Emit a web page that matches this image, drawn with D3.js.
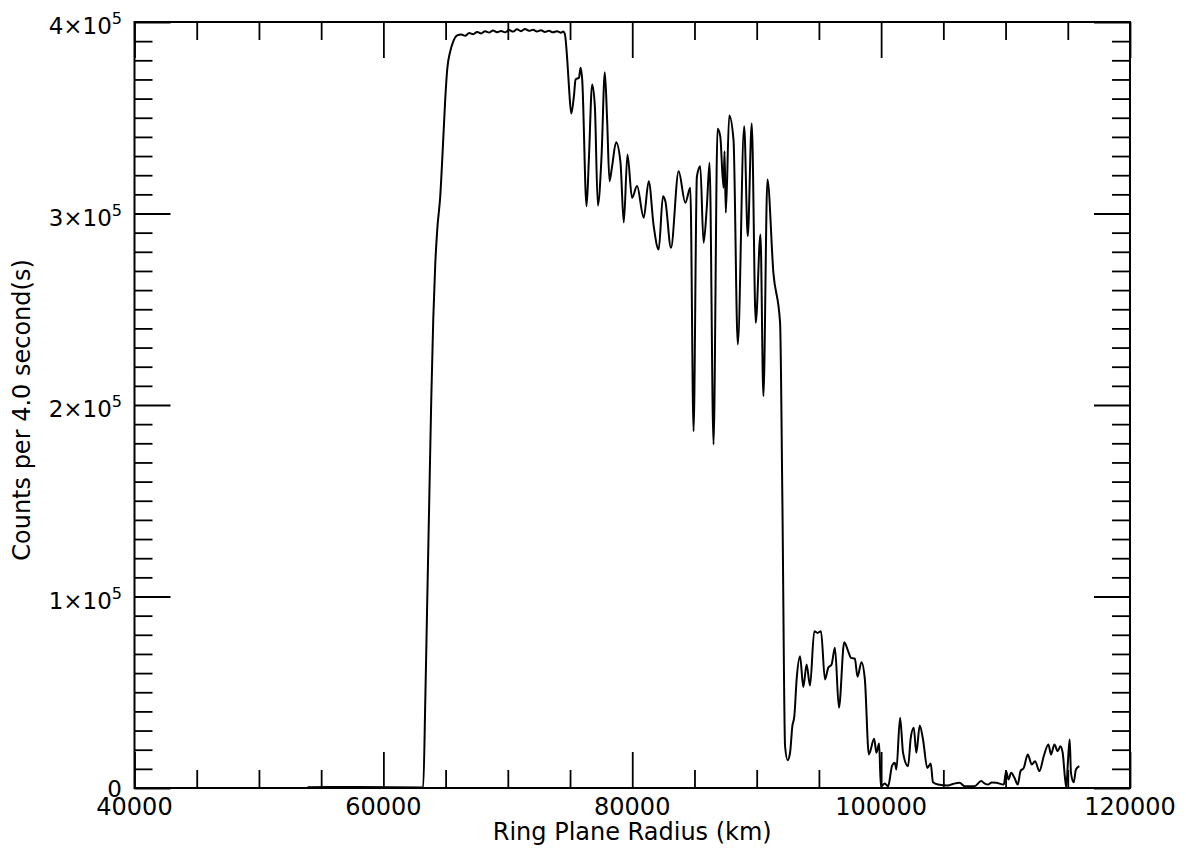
<!DOCTYPE html>
<html lang="en">

<head>
    <meta charset="utf-8">
    <script src='https://d3js.org/d3.v7.min.js'></script>
    <style>
        body { margin: 0; background: #fff; }
        text { font-family: "DejaVu Sans", sans-serif; fill: #000; }
    </style>
</head>

<body>
    <div class="chart"></div>

    <script>
        // Data
        const radiusKm = [
            53900, 58100, 63200, 63370, 63527, 63688, 63848, 64008, 64168, 64329,
            64569, 64810, 64970, 65130, 65371, 65611, 65932, 66252,
            66573, 66894, 67214, 67535, 67856, 68176, 68497, 68818, 69138, 69459,
            69779, 70100, 70421, 70741, 71062, 71383, 71703, 72024, 72344, 72665,
            72986, 73306, 73627, 73947, 74268, 74453,
            74591, 74775, 74911, 75096, 75312, 75448, 75713, 75849, 75977, 76329,
            76514, 76778, 76995, 77235, 77532, 77796, 77980, 78173, 78381, 78702,
            79055, 79319, 79615, 79984, 80385, 80922, 81323, 81724, 82124, 82469,
            82661, 83110, 83727, 84264, 84665, 84929, 85194, 85466, 85731, 85996,
            86212, 86533, 86854, 87070, 87335, 87415, 87519, 87792, 88136, 88481,
            88994, 89283, 89603, 89924, 90301, 90541, 90862, 91343, 91880, 92064,
            92281, 92489, 92681, 92866, 93026, 93210, 93483, 93747, 94012, 94284,
            94629, 94894, 95167, 95487, 95752, 96016, 96289, 96609, 97034, 97355,
            97571, 97892, 98100, 98421, 98693, 99014, 99439, 99623, 99840, 99976,
            100297, 100561, 100882, 101098, 101226, 101523, 101763, 102164, 102381, 102621,
            102830, 103102, 103367, 103711, 103984, 104168, 104569, 105371, 105772, 106309,
            106710, 107511, 108040, 108337, 108577, 108898, 109243, 109860, 110044, 110237,
            110445, 110718, 110982, 111199, 111463, 111784, 112105, 112369, 112722, 113067,
            113444, 113652, 113925, 114189, 114406, 114590, 114775, 114887, 114991, 115152,
            115256, 115472, 115657, 115929
        ];
        const counts = [
            400, 500, 300, 46200, 98400, 150700, 202900, 244700, 273400, 291600,
            308900, 338600, 359500, 375200, 384600, 389800, 393000, 393500,
            392800, 394200, 393600, 394800, 394000, 395200, 394500, 395600, 394700, 395300,
            394600, 395800, 395000, 396200, 395200, 396400, 395400, 395900, 395000, 395700,
            394800, 395400, 394600, 395200, 394400, 395000,
            393500, 380400, 366500, 352200, 361300, 370000, 370900, 376100, 370000, 303800,
            328200, 367400, 356000, 304200, 329900, 373800, 349100, 316900, 324700, 337200,
            326600, 295300, 330800, 308200, 314300, 297800, 316900, 293400, 281200, 309000,
            306400, 282100, 322100, 305600, 313400, 186300, 319200, 324700, 284700, 303800,
            326500, 179400, 344200, 340400, 313400, 332500, 300400, 351200, 338600, 231600,
            345600, 288200, 347000, 242900, 289000, 204600, 317800, 269000, 242900, 150700,
            21800, 14500, 18400, 32300, 37500, 56700, 68800, 52800, 64500, 53500,
            81900, 81000, 81900, 56700, 62800, 64500, 73200, 41900, 76100, 71400,
            68000, 67500, 58100, 65700, 56700, 17500, 25700, 18400, 23200, 900,
            2300, 900, 11700, 13200, 9700, 36700, 18400, 11400, 26200, 31400,
            18400, 32600, 25300, 10500, 12800, 3000, 1800, 1300, 2100, 2700,
            900, 900, 3600, 2300, 1800, 2900, 2700, 1800, 8800, 4400,
            7900, 5300, 1800, 8800, 10500, 17500, 12300, 14000, 8800, 16600,
            22700, 17500, 22700, 19200, 21800, 18400, 5300, 300, 11400, 25300,
            7900, 3000, 9700, 11400
        ];

        const xTickValues = [40000, 60000, 80000, 100000, 120000];
        const yTickValues = [0, 100000, 200000, 300000, 400000];
        const yTickMantissa = ["0", "1", "2", "3", "4"];
        const xLabel = "Ring Plane Radius (km)";
        const yLabel = "Counts per 4.0 second(s)";

        const data = radiusKm.map((r, i) => ({ x: r, y: counts[i] }));

        // Set Dimensions
        const width = 1186;
        const height = 852;
        const plotLeft = 134.5, plotRight = 1130, plotTop = 22, plotBottom = 788;

        const svg = d3.select(".chart")
            .append("svg")
            .attr("width", width)
            .attr("height", height);

        const x = d3.scaleLinear().domain([40000, 120000]).range([plotLeft, plotRight]);
        const y = d3.scaleLinear().domain([0, 400000]).range([plotBottom, plotTop]);

        const xMinor = d3.range(40000, 120001, 5000).filter(v => v % 20000 !== 0);
        const yMinor = d3.range(0, 400001, 10000).filter(v => v % 100000 !== 0);

        // helper: draw inward ticks on one side
        function ticks(axisFn, scale, values, size, transform) {
            const g = svg.append("g")
                .attr("transform", transform)
                .call(axisFn(scale).tickValues(values).tickSize(-size).tickFormat(""));
            g.select(".domain").remove();
            g.selectAll("line").attr("stroke", "#000").attr("stroke-width", 1.8);
            return g;
        }

        // bottom / top
        ticks(d3.axisBottom, x, xTickValues, 36, `translate(0,${plotBottom})`);
        ticks(d3.axisBottom, x, xMinor, 18, `translate(0,${plotBottom})`);
        ticks(d3.axisTop, x, xTickValues, 36, `translate(0,${plotTop})`);
        ticks(d3.axisTop, x, xMinor, 18, `translate(0,${plotTop})`);
        // left / right
        ticks(d3.axisLeft, y, yTickValues, 36, `translate(${plotLeft},0)`);
        ticks(d3.axisLeft, y, yMinor, 18, `translate(${plotLeft},0)`);
        ticks(d3.axisRight, y, yTickValues, 36, `translate(${plotRight},0)`);
        ticks(d3.axisRight, y, yMinor, 18, `translate(${plotRight},0)`);

        // frame
        svg.append("rect")
            .attr("x", plotLeft).attr("y", plotTop)
            .attr("width", plotRight - plotLeft).attr("height", plotBottom - plotTop)
            .attr("fill", "none").attr("stroke", "#000").attr("stroke-width", 2);

        // x tick labels
        svg.selectAll(".xlab").data(xTickValues).enter().append("text")
            .attr("x", d => x(d)).attr("y", 815)
            .attr("text-anchor", "middle").attr("font-size", 24)
            .text(d => d);

        // y tick labels with powers of ten
        yTickValues.forEach((v, i) => {
            const t = svg.append("text")
                .attr("x", 122).attr("y", y(v) + (v === 0 ? 9 : 12))
                .attr("text-anchor", "end").attr("font-size", 23);
            if (v === 0) {
                t.text("0");
            } else {
                t.append("tspan").text(yTickMantissa[i] + "\u00d710");
                t.append("tspan").attr("dy", -10).attr("font-size", 16).text("5");
            }
        });

        // axis titles
        svg.append("text")
            .attr("x", (plotLeft + plotRight) / 2).attr("y", 840)
            .attr("text-anchor", "middle").attr("font-size", 24)
            .text(xLabel);
        svg.append("text")
            .attr("transform", "translate(30,410) rotate(-90)")
            .attr("text-anchor", "middle").attr("font-size", 24)
            .text(yLabel);

        // Add the line
        svg.append("path")
            .datum(data)
            .attr("fill", "none").attr("stroke", "#000").attr("stroke-width", 2)
            .attr("stroke-linejoin", "round")
            .attr("d", d3.line()
                .curve(d3.curveMonotoneX)
                .x(d => { return x(d.x) })
                .y(d => { return y(d.y) }));
    </script>
</body>

</html>
